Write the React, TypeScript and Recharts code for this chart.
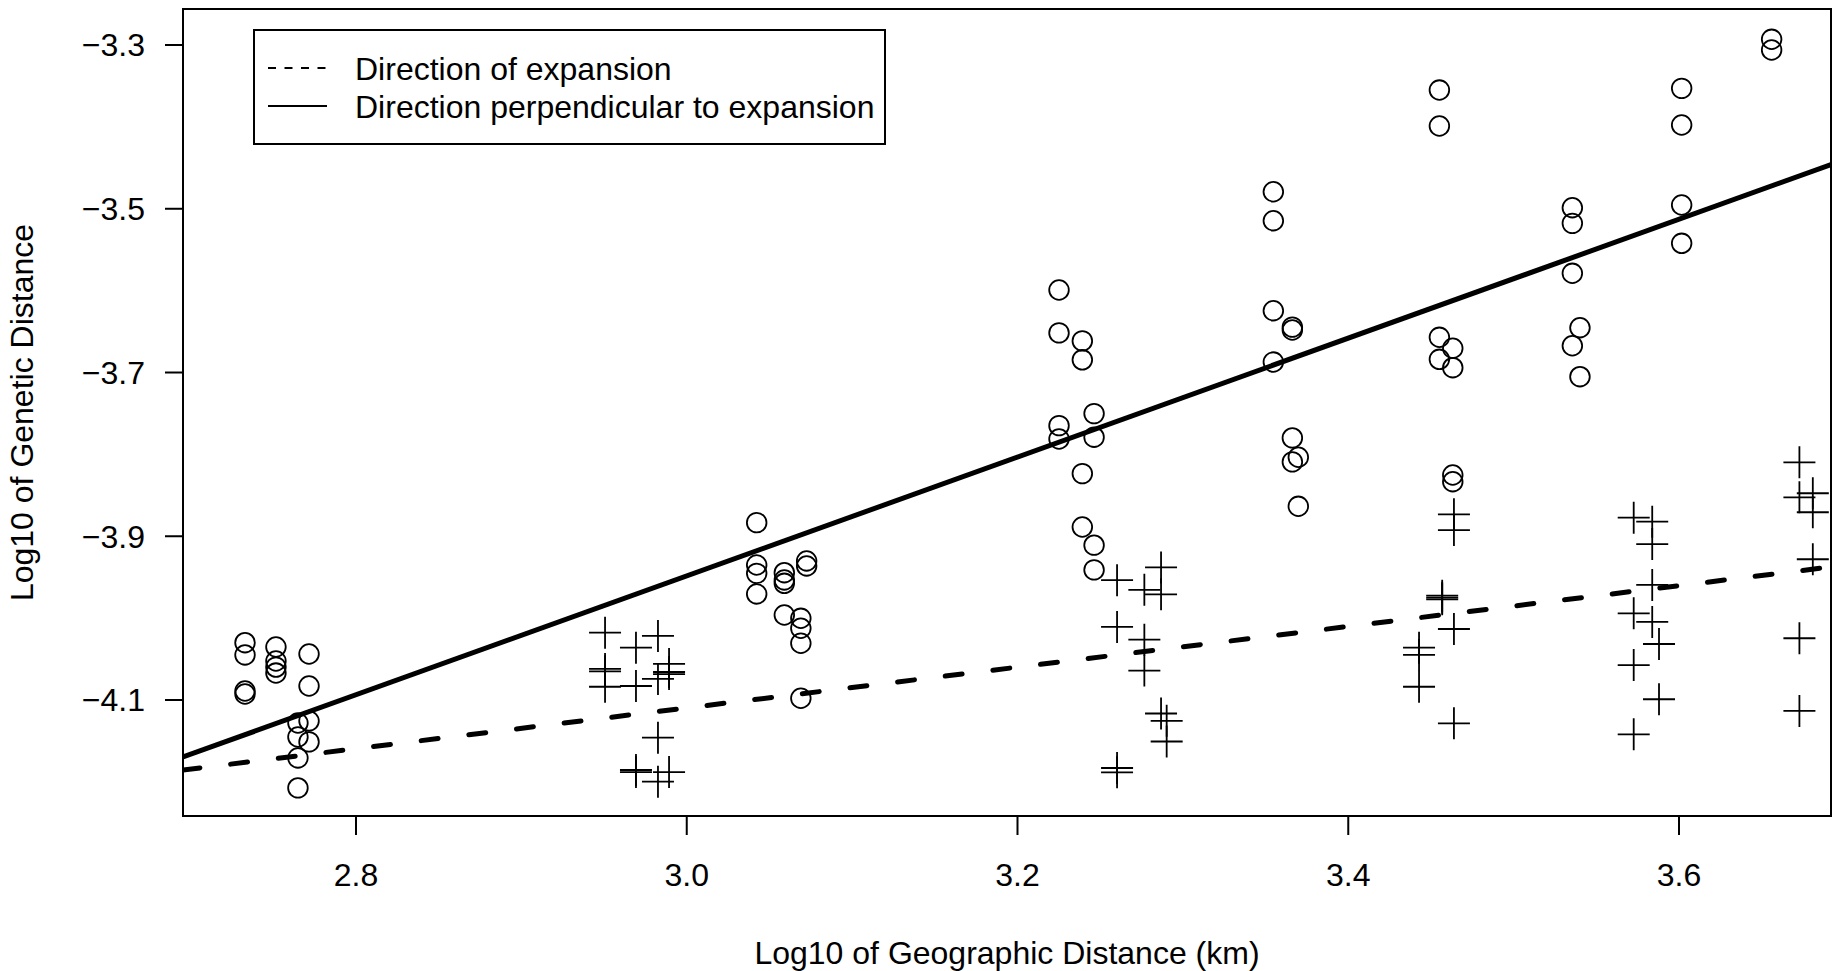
import {
  ScatterChart, Scatter, XAxis, YAxis, ReferenceLine, ReferenceArea,
} from 'recharts'

// circles: direction perpendicular to expansion
const perpendicularPairs: [number, number][] = [
  [2.7329, -4.03], [2.7329, -4.045], [2.7329, -4.089], [2.7329, -4.0927],
  [2.7516, -4.0353], [2.7516, -4.0524], [2.7516, -4.0598], [2.7516, -4.0671],
  [2.7716, -4.0438], [2.7716, -4.0829], [2.7716, -4.1256], [2.7716, -4.1512],
  [2.7649, -4.1281], [2.7649, -4.1452], [2.7649, -4.1708], [2.7649, -4.2074],
  [3.0423, -3.8834], [3.0423, -3.9351], [3.0423, -3.9453], [3.0423, -3.9705],
  [3.059, -3.9445], [3.059, -3.9534], [3.059, -3.9575], [3.059, -3.9962],
  [3.0725, -3.9302], [3.0725, -3.9363],
  [3.069, -4.0002], [3.069, -4.0124], [3.069, -4.0307], [3.069, -4.0979],
  [3.2251, -3.5992], [3.2251, -3.6516], [3.2251, -3.7649], [3.2251, -3.7812],
  [3.2392, -3.6614], [3.2392, -3.6845], [3.2392, -3.8235], [3.2392, -3.8887],
  [3.2463, -3.7502], [3.2463, -3.779], [3.2463, -3.9109], [3.2463, -3.9411],
  [3.3547, -3.4792], [3.3547, -3.5146], [3.3547, -3.6245], [3.3547, -3.6872],
  [3.3662, -3.6446], [3.3662, -3.6481], [3.3662, -3.7799], [3.3662, -3.8092],
  [3.3698, -3.8035], [3.3698, -3.8634],
  [3.4551, -3.355], [3.4551, -3.3989], [3.4551, -3.657], [3.4551, -3.6839],
  [3.4632, -3.6704], [3.4632, -3.6941], [3.4632, -3.8252], [3.4632, -3.8334],
  [3.5355, -3.4987], [3.5355, -3.5178], [3.5355, -3.5788], [3.5355, -3.6673],
  [3.5401, -3.6453], [3.5401, -3.7051],
  [3.6016, -3.3529], [3.6016, -3.3977], [3.6016, -3.4954], [3.6016, -3.5422],
  [3.656, -3.293], [3.656, -3.3061],
]

// crosses: direction of expansion
const expansionPairs: [number, number][] = [
  [2.9506, -4.0178], [2.9506, -4.0621], [2.9506, -4.065], [2.9506, -4.0838],
  [2.9693, -4.0361], [2.9693, -4.0829], [2.9693, -4.1855], [2.9693, -4.188],
  [2.9826, -4.0218], [2.9826, -4.0743], [2.9826, -4.146], [2.9826, -4.1998],
  [2.9893, -4.056], [2.9893, -4.0658], [2.9893, -4.0683], [2.9893, -4.188],
  [3.2602, -3.9536], [3.2602, -4.0108], [3.2602, -4.1831], [3.2602, -4.1884],
  [3.2767, -3.9655], [3.2767, -4.0263], [3.2767, -4.0641],
  [3.2868, -3.9381], [3.2868, -3.9709], [3.2868, -4.1165],
  [3.2902, -4.1254], [3.2902, -4.1507],
  [3.4639, -3.8732], [3.4639, -3.8924], [3.4639, -4.0133], [3.4639, -4.1285],
  [3.4568, -3.9726], [3.4568, -3.975], [3.4568, -3.977],
  [3.4428, -4.0361], [3.4428, -4.045], [3.4428, -4.0838],
  [3.5726, -3.8773], [3.5726, -3.9941], [3.5726, -4.0573], [3.5726, -4.1419],
  [3.5838, -3.8822], [3.5838, -3.9095], [3.5838, -3.9595], [3.5838, -4.0047],
  [3.5879, -4.0316], [3.5879, -4.0991],
  [3.6728, -3.8097], [3.6728, -3.8524], [3.6728, -4.0246], [3.6728, -4.1134],
  [3.6809, -3.8475], [3.6809, -3.8707], [3.6809, -3.9281],
]

// fitted lines, end points at the plot edges
const perpendicularFit: [number, number][] = [[2.6954, -4.1696], [3.6919, -3.4461]]
const expansionFit: [number, number][] = [[2.6954, -4.1855], [3.6919, -3.9375]]

const xDomain: [number, number] = [2.6954, 3.6919]
const yDomain: [number, number] = [-4.2417, -3.256]
const xTicks = [2.8, 3.0, 3.2, 3.4, 3.6]
const yTicks = [-3.3, -3.5, -3.7, -3.9, -4.1]

const legendLabels = ['Direction of expansion', 'Direction perpendicular to expansion']

const FONT = "'Liberation Sans', Arial, Helvetica, sans-serif"

const perpendicularData = perpendicularPairs.map(([x, y]) => ({ x, y }))
const expansionData = expansionPairs.map(([x, y]) => ({ x, y }))

const toSegment = (pts: [number, number][]) => pts.map(([x, y]) => ({ x, y }))

const fmt = (v: number) => (v < 0 ? '\u2212' + Math.abs(v).toFixed(1) : v.toFixed(1))

function OpenCircle(props: any) {
  const { cx, cy } = props
  if (cx == null || cy == null) return null
  return <circle cx={cx} cy={cy} r={9.8} fill="none" stroke="#000" strokeWidth={1.8} />
}

function Plus(props: any) {
  const { cx, cy } = props
  if (cx == null || cy == null) return null
  return (
    <path
      d={`M${cx - 16},${cy}h32M${cx},${cy - 16}v32`}
      stroke="#000"
      strokeWidth={1.8}
      fill="none"
    />
  )
}

export default function App() {
  return (
    <div
      style={{
        position: 'absolute', left: 0, top: 0, width: 1833, height: 971,
        background: '#fff', fontFamily: FONT,
      }}
    >
      <ScatterChart width={1833} height={971} margin={{ top: 9, right: 2, bottom: 0, left: 0 }}>
        <XAxis
          type="number"
          dataKey="x"
          domain={xDomain}
          ticks={xTicks}
          interval={0}
          allowDataOverflow
          height={155}
          tickSize={19}
          tickMargin={28}
          tickFormatter={fmt}
          tick={{ fontSize: 32, fill: '#000', fontFamily: FONT }}
          tickLine={{ stroke: '#000', strokeWidth: 2 }}
          axisLine={{ stroke: '#000', strokeWidth: 2 }}
          label={{
            value: 'Log10 of Geographic Distance (km)',
            position: 'insideBottom',
            offset: 7,
            fontSize: 32,
            fill: '#000',
            style: { fontSize: 32, fill: '#000', fontFamily: FONT },
          }}
        />
        <YAxis
          type="number"
          dataKey="y"
          domain={yDomain}
          ticks={yTicks}
          interval={0}
          allowDataOverflow
          width={183}
          tickSize={18}
          tickMargin={20}
          tickFormatter={fmt}
          tick={{ fontSize: 32, fill: '#000', fontFamily: FONT }}
          tickLine={{ stroke: '#000', strokeWidth: 2 }}
          axisLine={{ stroke: '#000', strokeWidth: 2 }}
          label={{
            value: 'Log10 of Genetic Distance',
            angle: -90,
            position: 'insideLeft',
            offset: 22,
            fontSize: 32,
            fill: '#000',
            style: { textAnchor: 'middle', fontSize: 32, fill: '#000', fontFamily: FONT },
          }}
        />
        <ReferenceArea
          x1={xDomain[0]}
          x2={xDomain[1]}
          y1={yDomain[0]}
          y2={yDomain[1]}
          fill="none"
          fillOpacity={0}
          stroke="#000"
          strokeWidth={2}
          ifOverflow="visible"
        />
        <Scatter data={perpendicularData} shape={OpenCircle} isAnimationActive={false} />
        <Scatter data={expansionData} shape={Plus} isAnimationActive={false} />
        <ReferenceLine
          segment={toSegment(perpendicularFit)}
          stroke="#000"
          strokeWidth={5}
          ifOverflow="hidden"
        />
        <ReferenceLine
          segment={toSegment(expansionFit)}
          stroke="#000"
          strokeWidth={5}
          strokeDasharray="17 31"
          strokeLinecap="round"
          ifOverflow="hidden"
        />
      </ScatterChart>

      <svg
        width={633}
        height={116}
        style={{ position: 'absolute', left: 253, top: 29, fontFamily: FONT }}
      >
        <rect x={1} y={1} width={631} height={114} fill="#fff" stroke="#000" strokeWidth={2} />
        <line x1={15} x2={74} y1={39} y2={39} stroke="#000" strokeWidth={1.8} strokeDasharray="8 8.5" />
        <line x1={15} x2={74} y1={77} y2={77} stroke="#000" strokeWidth={1.8} />
        <text x={102} y={50.5} fontSize={32} fill="#000">{legendLabels[0]}</text>
        <text x={102} y={88.5} fontSize={32} fill="#000">{legendLabels[1]}</text>
      </svg>
    </div>
  )
}
